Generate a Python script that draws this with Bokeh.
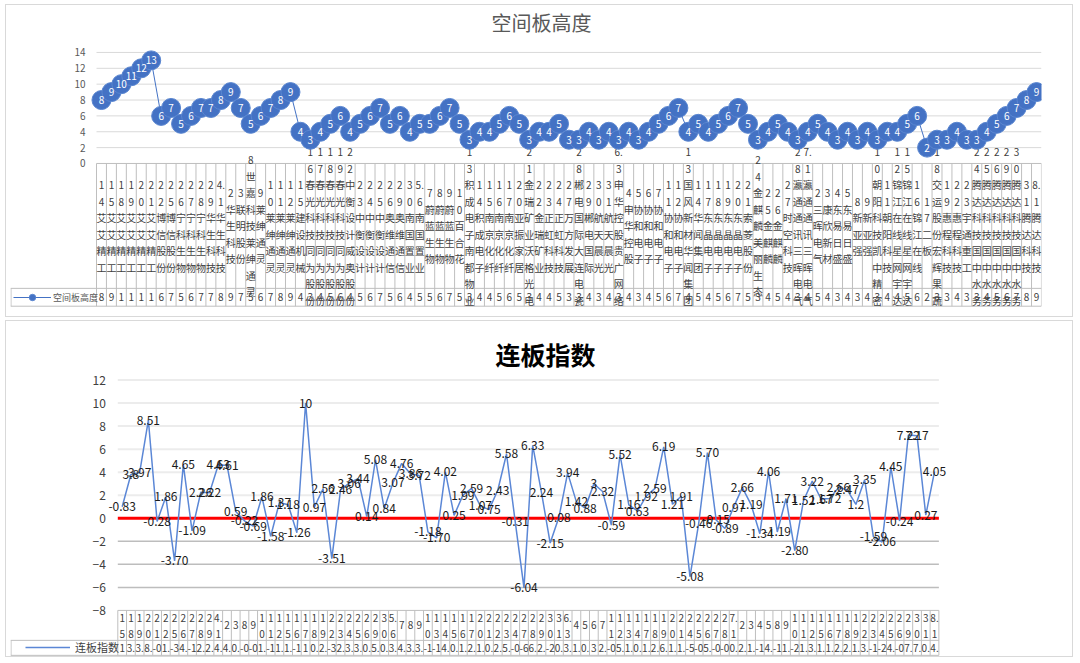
from bokeh.plotting import figure
from bokeh.layouts import column
from bokeh.models import Range1d, FixedTicker, Legend, LegendItem, Label
from bokeh.embed import file_html
from bokeh.resources import INLINE
from bokeh.core.properties import value

FONT = "Noto Sans CJK SC"

# ---------------- data: 空间板高度 ----------------
top_title = "空间板高度"
top_dates = ["14", "15", "18", "19", "20", "21", "22", "25", "26", "27", "28", "29",
             "4.1", "2", "3", "8", "9", "10", "11", "12", "15", "16", "17", "18", "19",
             "22", "23", "24", "25", "26", "29", "30",
             "5.6", "7", "8", "9", "10", "13", "14", "15", "16", "17", "20", "21", "22",
             "23", "24", "27", "28", "29", "30", "31",
             "6.3", "4", "5", "6", "7", "11", "12", "13", "14", "17", "18", "19", "20",
             "21", "24", "25", "26", "27", "28",
             "7.1", "2", "3", "4", "5", "8", "9", "10", "11", "12", "15", "16", "17",
             "18", "19", "22", "23", "24", "25", "26", "29", "30", "31",
             "8.1"]
top_names = ["艾艾精工"] * 6 + ["博信股份"] * 2 + ["宁科生物"] * 3 + ["华生科技"] * 3 + \
            ["联明股份", "世嘉科技莱绅通灵"] + ["莱绅通灵"] * 4 + ["建设机械"] + \
            ["春光科技同为股份"] * 4 + ["中衡设计威奥股份"] + ["中衡设计"] * 3 + \
            ["奥维通信"] * 2 + ["南国置业"] * 2 + ["蔚蓝生物"] * 3 + ["百合花", "积成电子南都物业", "积成电子"] + \
            ["南京化纤"] * 3 + ["亚振家居", "金瑞矿业沃格光电", "金瑞矿业"] + ["正虹科技"] * 2 + \
            ["万方发展", "郴电国际大连电瓷", "郴电国际"] + ["航天晨光"] * 2 + ["申华控股贵广网络", "申华控股"] + \
            ["协和电子"] * 5 + ["国风新材华闻集团", "华闻集团"] + ["东晶电子"] * 4 + \
            ["索菱股份", "金麒麟美丽生态"] + ["金麒麟"] * 2 + ["时空科技"] + ["瀛通通讯三晖电气"] * 2 + \
            ["三晖电气", "康欣新材"] + ["东易日盛"] * 2 + ["新亚强"] * 2 + ["朝阳科技凯中精密", "朝阳科技"] + \
            ["锦江在线星网宇达"] * 2 + ["锦江在线", "二板", "交运股份宏辉果蔬"] + ["惠程科技"] * 2 + \
            ["宇通重工"] + ["腾达科技国中水务"] * 5 + ["腾达科技"] * 2
top_values = [8, 9, 10, 11, 12, 13, 6, 7, 5, 6, 7, 7, 8, 9, 7, 5, 6, 7, 8, 9,
              4, 3, 4, 5, 6, 4, 5, 6, 7, 5, 6, 4, 5, 5, 6, 7, 5, 3, 4, 4,
              5, 6, 5, 3, 4, 4, 5, 3, 3, 4, 3, 4, 3, 4, 3, 4, 5, 6, 7, 4,
              5, 4, 5, 6, 7, 5, 3, 4, 5, 4, 3, 4, 5, 4, 3, 4, 3, 4, 3, 4,
              4, 5, 6, 2, 3, 3, 4, 3, 3, 4, 5, 6, 7, 8, 9]
top_yticks = [0, 2, 4, 6, 8, 10, 12, 14]

# ---------------- data: 连板指数 ----------------
bot_title = "连板指数"
bot_dates = top_dates[1:]
bot_values = [1, 3.8, 3.97, 8.51, -0.28, 1.86, -3.70, 4.65, -1.09, 2.26,
              2.22, 4.63, 4.61, 0.59, -0.22, -0.69, 1.86, -1.58, 1.37, 1.18,
              -1.26, 10, 0.97, 2.56, -3.51, 2.46, 3.06, 3.44, 0.14, 5.08,
              0.84, 3.07, 4.76, 3.86, 3.72, -1.18, -1.70, 4.02, 0.25, 1.99,
              2.59, 1.07, 0.75, 2.43, 5.58, -0.31, -6.04, 6.33, 2.24, -2.15,
              0.08, 3.94, 1.42, 0.88, 3, 2.32, -0.59, 5.52, 1.16, 0.63,
              1.92, 2.59, 6.19, 1.21, 1.91, -5.08, -0.46, 5.70, -0.15, -0.89,
              0.97, 2.66, 1.19, -1.34, 4.06, -1.19, 1.71, -2.80, 1.52, 3.22,
              1.67, 1.72, 2.66, 2.47, 1.2, 3.35, -1.59, -2.06, 4.45, -0.24,
              7.22, 7.17, 0.27, 4.05]
bot_labels = ["-0.83", "3.8", "3.97", "8.51", "-0.28", "1.86", "-3.70", "4.65", "-1.09", "2.26",
              "2.22", "4.63", "4.61", "0.59", "-0.22", "-0.69", "1.86", "-1.58", "1.37", "1.18",
              "-1.26", "10", "0.97", "2.56", "-3.51", "2.46", "3.06", "3.44", "0.14", "5.08",
              "0.84", "3.07", "4.76", "3.86", "3.72", "-1.18", "-1.70", "4.02", "0.25", "1.99",
              "2.59", "1.07", "0.75", "2.43", "5.58", "-0.31", "-6.04", "6.33", "2.24", "-2.15",
              "0.08", "3.94", "1.42", "0.88", "3", "2.32", "-0.59", "5.52", "1.16", "0.63",
              "1.92", "2.59", "6.19", "1.21", "1.91", "-5.08", "-0.46", "5.70", "-0.15", "-0.89",
              "0.97", "2.66", "1.19", "-1.34", "4.06", "-1.19", "1.71", "-2.80", "1.52", "3.22",
              "1.67", "1.72", "2.66", "2.47", "1.2", "3.35", "-1.59", "-2.06", "4.45", "-0.24",
              "7.22", "7.17", "0.27", "4.05"]
bot_yticks = [-8, -6, -4, -2, 0, 2, 4, 6, 8, 10, 12]


def wrap_date(d):
    if "." in d:
        a, b = d.split(".")
        return a + ".\n" + b
    return "\n".join(d)


def cell_text(v):
    s = "%g" % v
    if len(s) > 1 and (s[1] == "." or s[0] == "-"):
        return s[:2]
    return s[:1]


BLUE = "#4472C4"
GRID = "#d9d9d9"
TBL = "#bfbfbf"
FIG_W = 1068
BORDER_L, BORDER_R = 4, 33
FRAME_W = FIG_W - BORDER_L - BORDER_R


def style_axis(p, ticks, size, color, standoff):
    ax = p.yaxis[0]
    ax.ticker = FixedTicker(ticks=ticks)
    ax.fixed_location = -0.5
    ax.axis_line_color = None
    ax.major_tick_line_color = None
    ax.minor_tick_line_color = None
    ax.major_label_text_font = FONT
    ax.major_label_text_font_size = size
    ax.major_label_text_color = color
    ax.major_label_standoff = standoff
    p.xgrid.grid_line_color = None
    p.ygrid.grid_line_color = None
    p.outline_line_color = None


# ======================= top panel =======================
n1 = len(top_values)
x1 = list(range(n1))
col1 = 9.947            # px per category
lead1 = 86              # px of legend column left of table
xs1 = -0.5 - lead1 / col1
xe1 = xs1 + FRAME_W / col1
p1 = figure(width=FIG_W, height=313, x_range=Range1d(xs1, xe1), y_range=Range1d(-18.54, 19.92),
            output_backend="svg", toolbar_location=None, x_axis_location=None,
            min_border_left=BORDER_L, min_border_right=BORDER_R, min_border_top=0, min_border_bottom=8)
p1.margin = (4, 0, 0, 5)
p1.styles = {"border": "1px solid #d9d9d9"}
p1.add_layout(Label(x=531, y=288, x_units="screen", y_units="screen", text=top_title,
                    text_align="center", text_baseline="middle", text_font=FONT,
                    text_font_size="20px", text_color="#595959"))
style_axis(p1, top_yticks, "10px", "#595959", 5)

g1 = top_yticks[1:]
p1.segment(x0=[-0.5] * len(g1), x1=[n1 - 0.5] * len(g1), y0=g1, y1=g1, line_color=GRID, line_width=1)

# table for top
t1_top, t1_split, t1_bot = 0, -15.75, -18.0
p1.segment(x0=[-0.5, xs1, xs1], x1=[n1 - 0.5] * 3, y0=[t1_top, t1_split, t1_bot], y1=[t1_top, t1_split, t1_bot],
           line_color=TBL, line_width=1)
vx1 = [i - 0.5 for i in range(n1 + 1)]
p1.segment(x0=vx1, x1=vx1, y0=[t1_top] * (n1 + 1), y1=[t1_bot] * (n1 + 1), line_color=TBL, line_width=1)
p1.segment(x0=[xs1 + 0.05], x1=[xs1 + 0.05], y0=[t1_split], y1=[t1_bot], line_color=TBL, line_width=1)
cat1 = [wrap_date(d) + "\n" + "\n".join(nm) for d, nm in zip(top_dates, top_names)]
p1.text(x=x1, y=[(t1_top + t1_split) / 2] * n1, text=cat1, text_align="center", text_baseline="middle",
        text_font=value(FONT), text_font_size="10px", text_color="#404040", text_line_height=1.1)
p1.text(x=x1, y=[(t1_split + t1_bot) / 2] * n1, text=[cell_text(v) for v in top_values],
        text_align="center", text_baseline="middle",
        text_font=value(FONT), text_font_size="10px", text_color="#404040")

l1 = p1.line(x1, top_values, line_color=BLUE, line_width=1)
c1 = p1.scatter(x1, top_values, size=19, marker="circle", fill_color=BLUE, line_color="#5a86d0", line_width=1)
p1.text(x=x1, y=top_values, text=[str(v) for v in top_values], text_align="center", text_baseline="middle",
        text_font=value(FONT), text_font_size="10px", text_color="white")

leg1 = Legend(items=[LegendItem(label="空间板高度", renderers=[l1, c1])], location=(3, 5),
              label_text_font=FONT, label_text_font_size="9px", label_text_color="#595959",
              glyph_width=38, glyph_height=16, padding=0, margin=0, spacing=0, label_standoff=2,
              background_fill_alpha=0, border_line_color=None)
p1.add_layout(leg1)

# ======================= bottom panel =======================
n2 = len(bot_values)
x2 = list(range(n2))
col2 = 8.735
lead2 = 107.3
xs2 = -0.5 - lead2 / col2
xe2 = xs2 + FRAME_W / col2
p2 = figure(width=FIG_W, height=337, x_range=Range1d(xs2, xe2), y_range=Range1d(-12, 17.08),
            output_backend="svg", toolbar_location=None, x_axis_location=None,
            min_border_left=BORDER_L, min_border_right=BORDER_R, min_border_top=0, min_border_bottom=2)
p2.margin = (3, 0, 0, 5)
p2.styles = {"border": "1px solid #d9d9d9"}
p2.add_layout(Label(x=535, y=303, x_units="screen", y_units="screen", text=bot_title,
                    text_align="center", text_baseline="middle", text_font=FONT,
                    text_font_size="25px", text_font_style="bold", text_color="#000000"))
style_axis(p2, bot_yticks, "12px", "#404040", 6)

g2a = [t for t in bot_yticks if t > 0]
g2b = [t for t in bot_yticks if -8 < t < 0]
p2.segment(x0=[-0.5] * len(g2a), x1=[n2 - 0.5] * len(g2a), y0=g2a, y1=g2a, line_color="#ececec", line_width=2)
p2.segment(x0=[-0.5] * len(g2b), x1=[n2 - 0.5] * len(g2b), y0=g2b, y1=g2b, line_color="#bdbdbd", line_width=1.5)

t2_top, t2_split, t2_bot = -8, -10.6, -11.9
p2.segment(x0=[-0.5, xs2, xs2], x1=[n2 - 0.5] * 3, y0=[t2_top, t2_split, t2_bot], y1=[t2_top, t2_split, t2_bot],
           line_color=TBL, line_width=1)
vx2 = [i - 0.5 for i in range(n2 + 1)]
p2.segment(x0=vx2, x1=vx2, y0=[t2_top] * (n2 + 1), y1=[t2_bot] * (n2 + 1), line_color=TBL, line_width=1)
p2.segment(x0=[xs2 + 0.06], x1=[xs2 + 0.06], y0=[t2_split], y1=[t2_bot], line_color=TBL, line_width=1)
p2.text(x=x2, y=[(t2_top + t2_split) / 2] * n2, text=[wrap_date(d) for d in bot_dates],
        text_align="center", text_baseline="middle",
        text_font=value(FONT), text_font_size="10px", text_color="#404040", text_line_height=1.1)
p2.text(x=x2, y=[(t2_split + t2_bot) / 2] * n2, text=[cell_text(v) for v in bot_values],
        text_align="center", text_baseline="middle",
        text_font=value(FONT), text_font_size="10px", text_color="#404040")

p2.segment(x0=[-0.5], x1=[n2 - 0.5], y0=[0], y1=[0], line_color="#ff0000", line_width=3)
l2 = p2.line(x2, bot_values, line_color="#5b87d6", line_width=1.5)
p2.text(x=x2, y=bot_values, text=bot_labels, text_align="center", text_baseline="middle",
        text_font=value(FONT), text_font_size="12px", text_color="#1a1a1a")

leg2 = Legend(items=[LegendItem(label="连板指数", renderers=[l2])], location=(15, 1),
              label_text_font=FONT, label_text_font_size="11px", label_text_color="#404040",
              glyph_width=45, glyph_height=14, padding=0, margin=0, spacing=0, label_standoff=5,
              background_fill_alpha=0, border_line_color=None)
p2.add_layout(leg2)

layout = column(p1, p2, spacing=0)
open("out.html", "w").write(file_html(layout, INLINE))
